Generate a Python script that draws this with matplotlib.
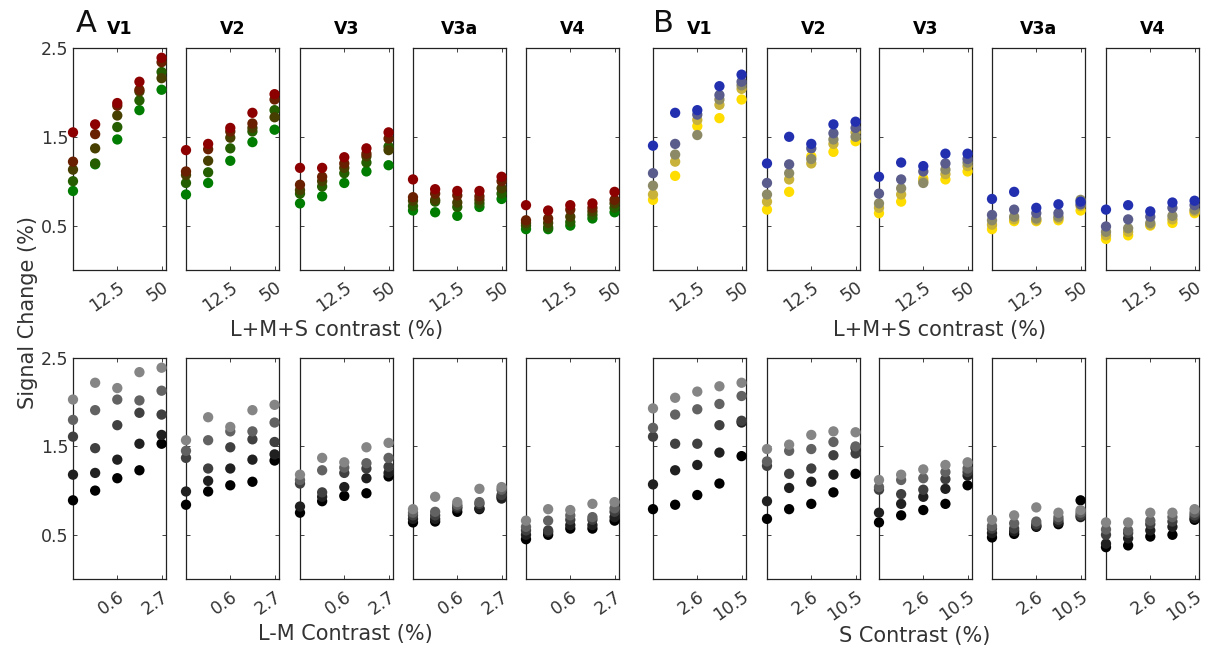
import numpy as np
import matplotlib.pyplot as plt

plt.rcParams['font.family'] = ['DejaVu Sans']

areas = ["V1", "V2", "V3", "V3a", "V4"]

# contrast steps (5 per panel), only two are labelled
lms_ticks = ["12.5", "50"]
lm_ticks = ["0.6", "2.7"]
s_ticks = ["2.6", "10.5"]

# ---- top row A: L+M+S response, one row per series (red -> green)
a_top_v1 = [[1.55, 1.64, 1.88, 2.12, 2.39],
            [1.22, 1.53, 1.85, 2.03, 2.34],
            [1.13, 1.37, 1.74, 2.01, 2.16],
            [1.00, 1.20, 1.61, 1.91, 2.23],
            [0.89, 1.19, 1.47, 1.80, 2.03]]
a_top_v2 = [[1.35, 1.42, 1.60, 1.77, 1.98],
            [1.11, 1.36, 1.56, 1.65, 1.92],
            [1.07, 1.23, 1.49, 1.60, 1.72],
            [0.98, 1.10, 1.37, 1.56, 1.80],
            [0.85, 0.98, 1.23, 1.44, 1.58]]
a_top_v3 = [[1.15, 1.15, 1.27, 1.37, 1.55],
            [0.96, 1.05, 1.20, 1.31, 1.48],
            [0.90, 1.00, 1.15, 1.28, 1.35],
            [0.86, 0.94, 1.09, 1.21, 1.39],
            [0.75, 0.83, 0.98, 1.11, 1.18]]
a_top_v3a = [[1.02, 0.91, 0.89, 0.89, 1.05],
             [0.82, 0.86, 0.84, 0.83, 1.00],
             [0.78, 0.79, 0.76, 0.79, 0.92],
             [0.72, 0.77, 0.71, 0.75, 0.86],
             [0.67, 0.65, 0.61, 0.71, 0.80]]
a_top_v4 = [[0.73, 0.67, 0.73, 0.75, 0.88],
            [0.56, 0.58, 0.68, 0.70, 0.79],
            [0.53, 0.53, 0.60, 0.66, 0.75],
            [0.50, 0.48, 0.54, 0.62, 0.70],
            [0.46, 0.46, 0.50, 0.58, 0.65]]

# ---- top row B: blue -> yellow
b_top_v1 = [[1.40, 1.77, 1.80, 2.07, 2.20],
            [1.09, 1.42, 1.75, 1.97, 2.12],
            [0.95, 1.30, 1.52, 1.92, 2.08],
            [0.85, 1.22, 1.69, 1.86, 2.04],
            [0.79, 1.06, 1.62, 1.71, 1.92]]
b_top_v2 = [[1.20, 1.50, 1.42, 1.64, 1.67],
            [0.98, 1.19, 1.37, 1.54, 1.60],
            [0.85, 1.09, 1.25, 1.47, 1.50],
            [0.77, 1.02, 1.20, 1.42, 1.55],
            [0.68, 0.88, 1.28, 1.33, 1.45]]
b_top_v3 = [[1.05, 1.21, 1.17, 1.31, 1.31],
            [0.86, 1.02, 1.11, 1.20, 1.25],
            [0.75, 0.92, 0.98, 1.13, 1.21],
            [0.70, 0.85, 1.00, 1.08, 1.17],
            [0.64, 0.77, 1.03, 1.02, 1.11]]
b_top_v3a = [[0.80, 0.88, 0.70, 0.74, 0.77],
             [0.62, 0.68, 0.64, 0.64, 0.74],
             [0.56, 0.60, 0.58, 0.60, 0.79],
             [0.51, 0.57, 0.56, 0.58, 0.72],
             [0.46, 0.55, 0.55, 0.56, 0.67]]
b_top_v4 = [[0.68, 0.73, 0.66, 0.76, 0.78],
            [0.49, 0.57, 0.60, 0.70, 0.73],
            [0.43, 0.47, 0.53, 0.61, 0.68],
            [0.39, 0.43, 0.51, 0.57, 0.66],
            [0.35, 0.39, 0.50, 0.53, 0.64]]

# ---- bottom row A: L-M contrast (light gray -> black)
a_bot_v1 = [[2.03, 2.22, 2.16, 2.34, 2.39],
            [1.80, 1.91, 2.03, 2.02, 2.13],
            [1.61, 1.48, 1.74, 1.88, 1.86],
            [1.18, 1.20, 1.35, 1.53, 1.63],
            [0.89, 1.00, 1.14, 1.23, 1.53]]
a_bot_v2 = [[1.57, 1.83, 1.72, 1.91, 1.97],
            [1.45, 1.57, 1.67, 1.67, 1.77],
            [1.37, 1.25, 1.49, 1.58, 1.55],
            [0.99, 1.11, 1.25, 1.35, 1.41],
            [0.84, 0.99, 1.06, 1.10, 1.34]]
a_bot_v3 = [[1.18, 1.37, 1.32, 1.49, 1.54],
            [1.12, 1.23, 1.26, 1.31, 1.37],
            [1.08, 0.98, 1.20, 1.25, 1.27],
            [0.82, 0.93, 1.04, 1.14, 1.20],
            [0.75, 0.88, 0.94, 0.97, 1.16]]
a_bot_v3a = [[0.79, 0.93, 0.87, 1.02, 1.04],
             [0.75, 0.76, 0.84, 0.87, 1.01],
             [0.72, 0.72, 0.82, 0.85, 0.95],
             [0.68, 0.68, 0.80, 0.80, 0.91],
             [0.64, 0.65, 0.76, 0.79, 0.93]]
a_bot_v4 = [[0.66, 0.79, 0.78, 0.85, 0.87],
            [0.59, 0.66, 0.72, 0.70, 0.80],
            [0.55, 0.55, 0.67, 0.67, 0.76],
            [0.50, 0.53, 0.61, 0.61, 0.70],
            [0.45, 0.50, 0.57, 0.57, 0.66]]

# ---- bottom row B: S contrast
b_bot_v1 = [[1.93, 2.05, 2.12, 2.18, 2.22],
            [1.71, 1.86, 1.92, 1.98, 2.07],
            [1.61, 1.53, 1.53, 1.74, 1.79],
            [1.07, 1.23, 1.29, 1.43, 1.77],
            [0.79, 0.84, 0.95, 1.08, 1.39]]
b_bot_v2 = [[1.47, 1.52, 1.63, 1.67, 1.66],
            [1.33, 1.45, 1.47, 1.55, 1.50],
            [1.28, 1.19, 1.25, 1.40, 1.42],
            [0.88, 1.03, 1.10, 1.18, 1.48],
            [0.68, 0.79, 0.85, 0.98, 1.19]]
b_bot_v3 = [[1.12, 1.18, 1.24, 1.29, 1.32],
            [1.04, 1.12, 1.14, 1.21, 1.25],
            [1.01, 0.96, 1.01, 1.13, 1.21],
            [0.75, 0.85, 0.93, 1.02, 1.17],
            [0.64, 0.72, 0.78, 0.85, 1.06]]
b_bot_v3a = [[0.67, 0.72, 0.81, 0.75, 0.78],
             [0.60, 0.63, 0.65, 0.70, 0.75],
             [0.57, 0.57, 0.62, 0.67, 0.72],
             [0.52, 0.54, 0.60, 0.64, 0.70],
             [0.47, 0.51, 0.59, 0.62, 0.89]]
b_bot_v4 = [[0.64, 0.64, 0.75, 0.75, 0.79],
            [0.56, 0.55, 0.66, 0.70, 0.75],
            [0.50, 0.52, 0.62, 0.65, 0.72],
            [0.40, 0.46, 0.55, 0.59, 0.69],
            [0.36, 0.38, 0.48, 0.50, 0.67]]

red_green = ["#8c0000", "#682000", "#463f00", "#245e00", "#007d00"]
blue_yellow = ["#2230b0", "#5a5c8c", "#8c8a66", "#c8b23a", "#ffdd00"]
grays = ["#858585", "#626262", "#404040", "#202020", "#000000"]

fig = plt.figure(figsize=(12.08, 6.51), dpi=100)
W, H = 1208, 651

a_lefts = [73, 186, 300, 413, 526]
b_lefts = [653, 767, 879, 992, 1106]
pw = 93
rows = [(48, 270), (358, 579)]

panels = [
    (0, a_lefts, [a_top_v1, a_top_v2, a_top_v3, a_top_v3a, a_top_v4], red_green, lms_ticks),
    (0, b_lefts, [b_top_v1, b_top_v2, b_top_v3, b_top_v3a, b_top_v4], blue_yellow, lms_ticks),
    (1, a_lefts, [a_bot_v1, a_bot_v2, a_bot_v3, a_bot_v3a, a_bot_v4], grays, lm_ticks),
    (1, b_lefts, [b_bot_v1, b_bot_v2, b_bot_v3, b_bot_v3a, b_bot_v4], grays, s_ticks),
]

x = np.arange(5)
tick_col = "#333333"
for r, lefts, datas, cols, xt in panels:
    top, bot = rows[r]
    for i, (lx, d) in enumerate(zip(lefts, datas)):
        ax = fig.add_axes([lx / W, 1 - bot / H, pw / W, (bot - top) / H])
        d = np.array(d)
        # draw from the last series to the first so the first ends on top
        for k in range(4, -1, -1):
            ax.scatter(x, d[k], s=55, color=cols[k], edgecolors="none",
                       clip_on=False, zorder=3)
        ax.set_xlim(0, 4.2)
        ax.set_ylim(0, 2.5)
        ax.set_xticks([2, 4])
        ax.set_xticklabels(xt, rotation=35, ha="right", rotation_mode="anchor")
        ax.set_yticks([0.5, 1.5, 2.5])
        ax.tick_params(direction="in", length=3, top=True, right=True,
                       labelsize=12.5, colors="#222222", labelcolor=tick_col,
                       width=0.6)
        ax.tick_params(axis="x", pad=6)
        if lefts is a_lefts and i == 0:
            ax.set_yticklabels(["0.5", "1.5", "2.5"])
        else:
            ax.set_yticklabels([])
        for sp in ax.spines.values():
            sp.set_color("#222222")
            sp.set_linewidth(0.9)
        if r == 0:
            ax.set_title(areas[i], fontsize=12.5, fontweight="bold", pad=10)

fig.text(86 / W, 1 - 24 / H, "A", fontsize=22, ha="center", va="center", color="#111111")
fig.text(663 / W, 1 - 24 / H, "B", fontsize=22, ha="center", va="center", color="#111111")

fig.text(337 / W, 1 - 330 / H, "L+M+S contrast (%)", fontsize=15, ha="center", va="center", color=tick_col)
fig.text(940 / W, 1 - 330 / H, "L+M+S contrast (%)", fontsize=15, ha="center", va="center", color=tick_col)
fig.text(345 / W, 1 - 634 / H, "L-M Contrast (%)", fontsize=15, ha="center", va="center", color=tick_col)
fig.text(915 / W, 1 - 636 / H, "S Contrast (%)", fontsize=15, ha="center", va="center", color=tick_col)
fig.text(28 / W, 1 - 313 / H, "Signal Change (%)", fontsize=15, rotation=90,
         ha="center", va="center", color=tick_col)

fig.savefig("out.png", dpi=100)
